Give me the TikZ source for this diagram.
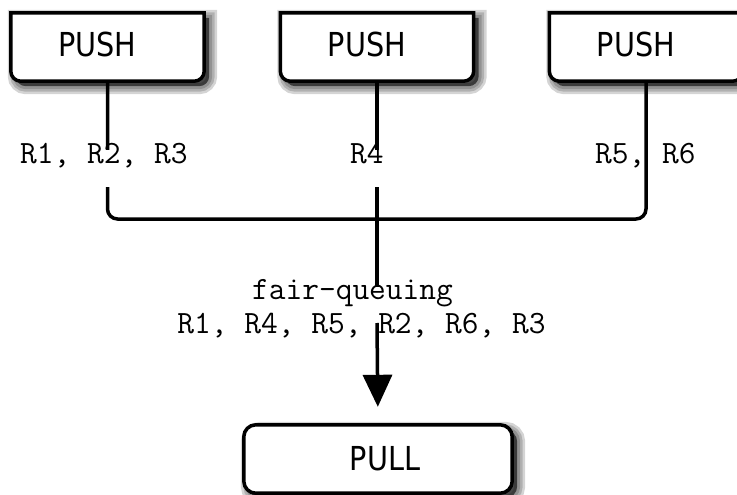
\documentclass[tikz,border=0pt]{standalone}
\usepackage{fontspec}
\newfontfamily\boxfont[FakeStretch=0.87]{DejaVu Sans}
\usetikzlibrary{arrows.meta,backgrounds}
\begin{document}
\begin{tikzpicture}[x=1pt,y=-1pt,
  boxnode/.style={minimum width=193pt,minimum height=68pt,inner sep=0pt,text depth=6pt,
    font=\boxfont\fontsize{33}{36}\selectfont},
  pullnode/.style={minimum width=268pt,minimum height=68pt,inner sep=0pt,
    font=\boxfont\fontsize{33}{36}\selectfont},
  boxline/.style={line width=3.5pt,black},
  conn/.style={line width=3.5pt,black},
  lbl/.style={font=\ttfamily\fontsize{32.5}{34}\selectfont,inner sep=0pt,
    text height=13pt,text depth=24pt,anchor=base west},
  fqlbl/.style={font=\ttfamily\fontsize{32.5}{34}\selectfont,inner sep=0pt,anchor=base},
  pushpath/.style={insert path={(#1.west) [rounded corners=10pt] -- (#1.south west) -- (#1.south east) -- (#1.east) [sharp corners] -- (#1.north east) -- (#1.north west) -- cycle}},
  pullpath/.style={insert path={[rounded corners=12pt] (#1.south west) rectangle (#1.north east)}},
  shadowshift/.style={transform canvas={shift={(5pt,-5pt)}}},
]
\useasboundingbox (0,0) rectangle (737,495);

% boxes
\node[boxnode] (push1) at (107.5,47) {\hspace*{-20pt}PUSH};
\node[boxnode] (push2) at (377,47) {\hspace*{-20pt}PUSH};
\node[boxnode] (push3) at (646,47) {\hspace*{-20pt}PUSH};
\node[pullnode] (pull) at (378,459) {\hspace*{14pt}PULL};

\begin{scope}[on background layer]
  \foreach \n in {push1,push2,push3} {
    \fill[black,opacity=0.6,shadowshift,pushpath=\n];
    \foreach \w in {16,11,6} {
      \draw[black,opacity=0.17,line width=\w pt,shadowshift,pushpath=\n];
    }
    \fill[white,pushpath=\n];
  }
  \fill[black,opacity=0.6,shadowshift,pullpath=pull];
  \foreach \w in {16,11,6} {
    \draw[black,opacity=0.17,line width=\w pt,shadowshift,pullpath=pull];
  }
  \fill[white,pullpath=pull];
\end{scope}

\draw[boxline,pushpath=push1];
\draw[boxline,pushpath=push2];
\draw[boxline,pushpath=push3];
\draw[boxline,pullpath=pull];

% unfilled label (line passes over it)
\node[lbl] (rc) at (595,163) {R5, R6};

% connectors
\coordinate (barlevel) at (0,219);
\coordinate (fqtop) at (377,287);
\coordinate (fqbot) at (377,323);
\draw[conn,rounded corners=10pt] (push1.south) -- (push1.south |- barlevel) -| (push3.south);
\draw[conn] (push2.south) -- (fqtop);
\draw[conn,-{Triangle[length=32pt,width=29pt]},shorten >=18pt] (fqbot) -- (pull.north);

% labels with white background
\node[lbl,fill=white] (ra) at (20,163) {R1, R2, R3};
\node[lbl,fill=white] (rb) at (350,163) {R4};
\node[fqlbl] (fq1) at (352.5,299) {fair-queuing};
\node[fqlbl] (fq2) at (361.5,333) {R1, R4, R5, R2, R6, R3};
\end{tikzpicture}
\end{document}
